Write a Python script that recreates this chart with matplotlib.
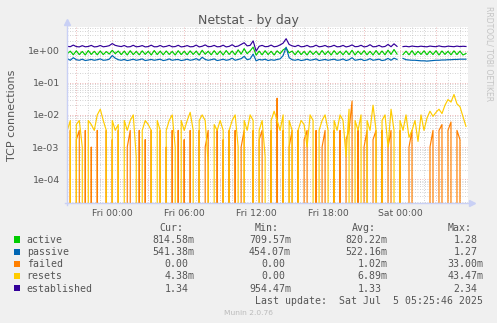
import numpy as np
import matplotlib
matplotlib.use("Agg")
import matplotlib.pyplot as plt
from matplotlib.lines import Line2D
from matplotlib.patches import Rectangle

# ---------------- data ----------------
t_start = -3.75   # hours relative to Fri 00:00
t_step = 0.25     # 15-minute samples

active = [0.80, 0.96, 0.74, 0.98, 0.75, 0.94, 0.73, 1.00, 0.76, 0.95,
          0.74, 0.97, 0.75, 0.93, 0.78, 1.02, 0.80, 0.97, 0.75, 0.96,
          0.73, 0.99, 0.75, 0.94, 0.74, 0.98, 0.76, 0.95, 0.73, 1.00,
          0.75, 0.96, 0.74, 0.97, 0.76, 0.94, 0.73, 0.99, 0.75, 0.95,
          0.74, 0.98, 0.76, 0.96, 0.73, 1.02, 0.77, 0.95, 0.74, 0.99,
          0.75, 0.96, 0.73, 1.00, 0.76, 0.97, 0.74, 1.05, 0.78, 1.15,
          0.80, 0.98, 1.28, 0.72, 0.96, 0.74, 0.99, 0.75, 0.95, 0.73,
          0.98, 0.80, 1.05, 1.20, 0.85, 0.96, 0.74, 0.99, 0.75, 0.94,
          0.73, 0.98, 0.76, 0.95, 0.74, 1.00, 0.75, 0.96, 0.73, 0.99,
          0.76, 0.94, 0.74, 0.98, 0.75, 1.02, 0.73, 0.96, 0.76, 0.99,
          0.74, 0.95, 0.73, 1.00, 0.75, 0.97, 0.74, 1.03, 0.76, 1.08,
          0.78, np.nan, 0.75, 0.96, 0.74, 0.99, 0.73, 0.95, 0.76, 0.98,
          0.74, 0.96, 0.75, 0.99, 0.73, 0.97, 0.76, 0.95, 0.74, 0.98,
          0.75, 0.96, 0.73, 0.81]

passive = [0.56, 0.50, 0.60, 0.52, 0.50, 0.54, 0.49, 0.51, 0.53, 0.50,
           0.52, 0.55, 0.50, 0.51, 0.54, 0.70, 0.58, 0.52, 0.50, 0.53,
           0.49, 0.51, 0.54, 0.50, 0.52, 0.55, 0.49, 0.51, 0.53, 0.50,
           0.52, 0.54, 0.49, 0.51, 0.55, 0.50, 0.52, 0.53, 0.49, 0.51,
           0.54, 0.50, 0.52, 0.56, 0.50, 0.62, 0.53, 0.50, 0.52, 0.55,
           0.49, 0.51, 0.54, 0.50, 0.52, 0.58, 0.50, 0.53, 0.56, 0.66,
           0.52, 0.55, 0.78, 0.48, 0.53, 0.51, 0.54, 0.49, 0.52, 0.50,
           0.53, 0.55, 0.70, 1.27, 0.60, 0.52, 0.50, 0.53, 0.49, 0.51,
           0.54, 0.50, 0.52, 0.55, 0.49, 0.51, 0.53, 0.50, 0.52, 0.54,
           0.50, 0.51, 0.55, 0.49, 0.52, 0.60, 0.50, 0.52, 0.54, 0.49,
           0.51, 0.56, 0.50, 0.52, 0.54, 0.49, 0.51, 0.57, 0.50, 0.58,
           0.53, np.nan, 0.57, 0.52, 0.51, 0.50, 0.50, 0.49, 0.48, 0.48,
           0.47, 0.48, 0.49, 0.50, 0.50, 0.51, 0.51, 0.52, 0.52, 0.53,
           0.53, 0.54, 0.54, 0.54]

# milli-units (per second)
failed_m = [0, 3.3, 0, 1.7, 3.3, 0, 3.3, 0, 1.0, 0,
            3.3, 0, 0, 3.3, 0, 1.7, 0, 3.3, 0, 0,
            1.0, 3.3, 0, 0, 3.3, 0, 1.7, 0, 3.3, 0,
            0, 3.3, 0, 1.0, 0, 3.3, 0, 3.3, 0, 1.7,
            0, 3.3, 0, 0, 3.3, 0, 1.0, 3.3, 0, 0,
            3.3, 0, 1.7, 0, 3.3, 0, 3.3, 0, 1.0, 3.3,
            0, 0, 3.3, 0, 1.7, 3.3, 0, 0, 3.3, 0,
            33, 0, 3.3, 0, 1.0, 3.3, 0, 3.3, 0, 1.7,
            3.3, 0, 0, 3.3, 0, 1.0, 3.3, 0, 0, 3.3,
            0, 3.3, 0, 1.7, 3.3, 27, 0, 3.3, 0, 1.0,
            3.3, 0, 1.7, 3.3, 0, 3.3, 0, 1.0, 3.3, 0,
            0, 3.3, 0, 0, 1.0, 3.3, 0, 0, 0, 0,
            0, 1.0, 3.3, 0, 3.3, 5.0, 0, 3.3, 6.0, 0,
            3.3, 1.7, 0, 0]

resets_m = [3.3, 6.7, 0, 5.0, 6.7, 1.0, 0, 6.7, 5.0, 3.3,
            10, 15, 6.7, 3.3, 0, 6.7, 3.3, 5.0, 0, 6.7,
            3.3, 6.7, 10, 0.5, 0, 3.3, 6.7, 5.0, 3.3, 0,
            6.7, 3.3, 0, 3.3, 6.7, 10, 1.0, 0, 6.7, 3.3,
            6.7, 12, 3.3, 0, 6.7, 10, 6.7, 0.3, 0, 5.0,
            3.3, 6.7, 3.3, 0, 3.3, 6.7, 10, 1.0, 0, 6.7,
            3.3, 10, 6.7, 0, 3.3, 6.7, 0.5, 0, 6.7, 13,
            6.7, 3.3, 10, 0, 6.7, 3.3, 0, 3.3, 6.7, 5.0,
            1.0, 10, 6.7, 0, 3.3, 6.7, 10, 3.3, 0, 6.7,
            3.3, 10, 6.7, 0.5, 15, 0, 6.7, 3.3, 10, 0,
            6.7, 3.3, 20, 3.3, 0, 6.7, 10, 1.0, 15, 3.3,
            0, 6.7, 3.3, 10, 2.0, 3.3, 6.7, 1.5, 10, 3.3,
            8.0, 13, 9.0, 12, 15, 11, 20, 30, 25, 43,
            22, 18, 9.0, 4.4]

established = [1.35, 1.32, 1.48, 1.33, 1.30, 1.42, 1.31, 1.34, 1.45, 1.30,
               1.33, 1.44, 1.31, 1.35, 1.42, 1.65, 1.45, 1.38, 1.33, 1.44,
               1.30, 1.32, 1.46, 1.31, 1.34, 1.43, 1.30, 1.33, 1.47, 1.31,
               1.32, 1.44, 1.30, 1.35, 1.45, 1.31, 1.33, 1.46, 1.30, 1.34,
               1.43, 1.31, 1.33, 1.48, 1.30, 1.36, 1.50, 1.32, 1.34, 1.45,
               1.31, 1.33, 1.47, 1.30, 1.35, 1.52, 1.32, 1.38, 1.55, 1.75,
               1.40, 1.45, 2.00, 0.96, 1.36, 1.45, 1.32, 1.34, 1.48, 1.31,
               1.36, 1.50, 1.70, 2.34, 1.55, 1.40, 1.33, 1.46, 1.31, 1.34,
               1.45, 1.30, 1.33, 1.47, 1.31, 1.35, 1.44, 1.30, 1.34, 1.46,
               1.31, 1.33, 1.45, 1.30, 1.36, 1.50, 1.32, 1.34, 1.46, 1.30,
               1.35, 1.52, 1.31, 1.33, 1.45, 1.30, 1.34, 1.55, 1.32, 1.62,
               1.35, np.nan, 1.33, 1.36, 1.31, 1.38, 1.34, 1.32, 1.37, 1.33,
               1.31, 1.38, 1.34, 1.32, 1.40, 1.33, 1.31, 1.37, 1.34, 1.32,
               1.38, 1.33, 1.36, 1.34]

series_names = ["active", "passive", "failed", "resets", "established"]
series_colors = ["#00CC00", "#0066B3", "#FF8000", "#FFCC00", "#330099"]

cur_vals = ["814.58m", "541.38m", "0.00", "4.38m", "1.34"]
min_vals = ["709.57m", "454.07m", "0.00", "0.00", "954.47m"]
avg_vals = ["820.22m", "522.16m", "1.02m", "6.89m", "1.33"]
max_vals = ["1.28", "1.27", "33.00m", "43.47m", "2.34"]

xtick_hours = [0, 6, 12, 18, 24]
xtick_labels = ["Fri 00:00", "Fri 06:00", "Fri 12:00", "Fri 18:00", "Sat 00:00"]

title = "Netstat - by day"
ylabel = "TCP connections"
last_update = "Last update:  Sat Jul  5 05:25:46 2025"
version = "Munin 2.0.76"
watermark = "RRDTOOL/ TOBI OETIKER"

# ---------------- figure ----------------
W, H = 497, 323
BG = "#F0F0F0"
FONT = "#555555"
AXISC = "#C9D0F5"

fig = plt.figure(figsize=(W / 100, H / 100), dpi=100, facecolor=BG)

def fx(x):
    return x / W

def fy(y):
    return 1 - y / H

x0, x1, y0, y1 = 66.7, 468.0, 27.0, 203.0
ax = fig.add_axes([fx(x0), fy(y1), fx(x1) - fx(x0), fy(y0) - fy(y1)])
ax.set_facecolor("white")

n = len(active)
t = t_start + t_step * np.arange(n)

data = [np.array(active), np.array(passive), np.array(failed_m) * 1e-3,
        np.array(resets_m) * 1e-3, np.array(established)]
for vals, col in zip(data, series_colors):
    ax.plot(t, vals, color=col, lw=0.85, zorder=3)

ax.set_yscale("log", nonpositive="clip")
ax.set_ylim(10 ** -4.74, 10 ** 0.733)
ax.set_xlim(-3.8, 29.67)

# grid
major_x = np.arange(-3, 30, 3)
ax.set_xticks(major_x)
ax.set_xticklabels([xtick_labels[xtick_hours.index(h)] if h in xtick_hours else ""
                    for h in major_x])
ax.set_xticks(np.arange(-3, 30, 1), minor=True)
ax.grid(which="major", axis="both", color="#E8A0A0", lw=0.6, ls=(0, (1, 2)), zorder=1)
ax.grid(which="minor", axis="both", color="#C4C4C4", lw=0.6, ls=(0, (1, 2)), zorder=0)
ax.set_yticks([1e0, 1e-1, 1e-2, 1e-3, 1e-4])
ax.set_yticklabels(["1e+00", "1e-01", "1e-02", "1e-03", "1e-04"])
ax.tick_params(axis="both", which="both", length=0, colors=FONT, labelsize=6.8)
ax.tick_params(axis="y", pad=5)
ax.tick_params(axis="x", pad=4, labelsize=6.7)
for s in ax.spines.values():
    s.set_visible(False)

# axis lines with arrows
fig.add_artist(Line2D([fx(x0), fx(x0)], [fy(y1 + 2), fy(23)], color=AXISC, lw=1.0))
fig.add_artist(Line2D([fx(x0 - 2), fx(471)], [fy(y1), fy(y1)], color=AXISC, lw=1.0))
fig.add_artist(Line2D([fx(x0)], [fy(22)], marker="^", ms=5, color=AXISC, mec=AXISC, lw=0))
fig.add_artist(Line2D([fx(472)], [fy(y1)], marker=">", ms=5, color=AXISC, mec=AXISC, lw=0))

# texts
fig.text(fx(248.5), fy(24), title, ha="center", va="baseline", fontsize=9, color=FONT,
         family="DejaVu Sans")
fig.text(fx(12), fy(115), ylabel, ha="center", va="center", rotation=90, fontsize=8,
         color=FONT, family="DejaVu Sans")
fig.text(fx(488.5), fy(54), watermark, ha="center", va="center", rotation=270,
         fontsize=5.5, color="#C4C4C4", family="DejaVu Sans")

MONO = "DejaVu Sans Mono"
LFS = 7.1
cw = 5.94
col_right = [194.3, 291.0, 387.3, 483.3]
headers = ["Cur:", "Min:", "Avg:", "Max:"]
header_left = [159.0, 255.0, 351.7, 447.7]
for h, xl in zip(headers, header_left):
    fig.text(fx(xl), fy(231), h, ha="left", va="baseline", fontsize=LFS, color=FONT, family=MONO)

row_base = [243.0, 255.2, 267.3, 279.4, 291.5]
cols = [cur_vals, min_vals, avg_vals, max_vals]
for i, name in enumerate(series_names):
    yb = row_base[i]
    fig.add_artist(Rectangle((fx(14), fy(yb - 0.5)), fx(6.2), fy(0) - fy(6.2),
                             transform=fig.transFigure, facecolor=series_colors[i],
                             edgecolor="none"))
    fig.text(fx(26.7), fy(yb), name, ha="left", va="baseline", fontsize=LFS, color=FONT, family=MONO)
    for c, xr in zip(cols, col_right):
        s = c[i]
        xr_eff = xr if s.endswith("m") else xr - cw
        fig.text(fx(xr_eff), fy(yb), s, ha="right", va="baseline", fontsize=LFS,
                 color=FONT, family=MONO)

fig.text(fx(483.3), fy(303.6), last_update, ha="right", va="baseline", fontsize=LFS,
         color=FONT, family=MONO)
fig.text(fx(248.5), fy(315), version, ha="center", va="baseline", fontsize=5.4,
         color="#BBBBBB", family="DejaVu Sans")

fig.savefig("out.png", dpi=100, facecolor=BG)
